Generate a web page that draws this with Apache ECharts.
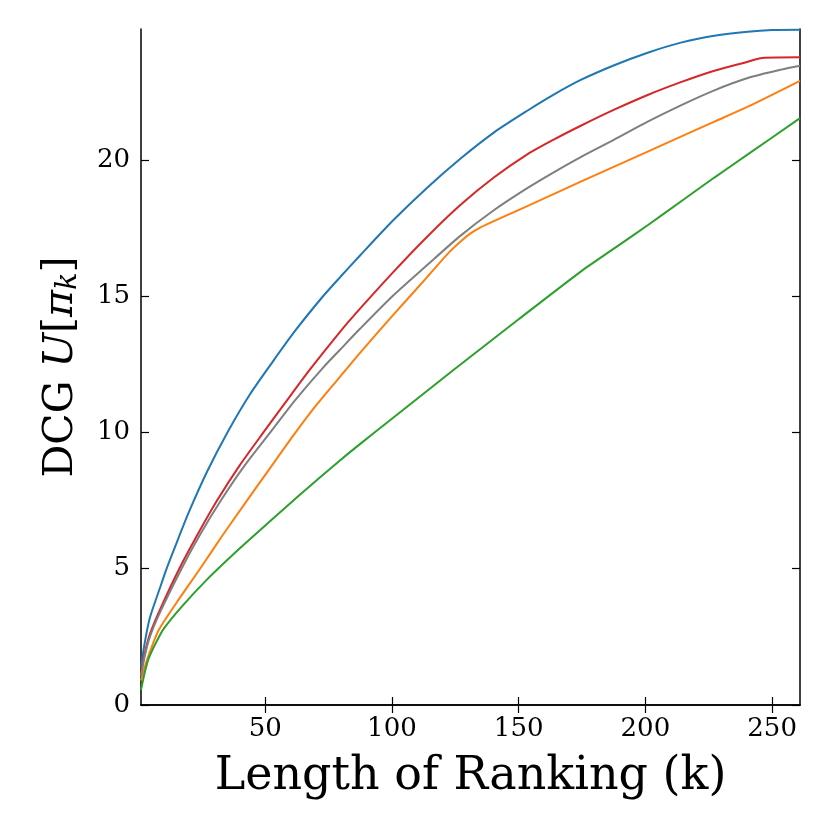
<!DOCTYPE html>
<html>
<head>
<meta charset="utf-8">
<script src="https://cdn.jsdelivr.net/npm/echarts@6/dist/echarts.min.js"></script>
<style>html,body{margin:0;padding:0;background:#fff}#c{width:830px;height:830px}</style>
</head>
<body>
<div id="c"></div>
<script>
const xTicks = [50, 100, 150, 200, 250];
const yTicks = [0, 5, 10, 15, 20];
const xTitle = 'Length of Ranking (k)';

const blue = [[1,1.4],[2.5,2.3],[4.5,3.2],[8.5,4.3],[11.1,5.0],[14,5.7],[20,7.1],[27,8.55],[35.1,10.0],[44,11.4],[53,12.6],[62,13.75],[72.4,14.95],[79.6,15.7],[87.5,16.5],[100.7,17.8],[113.9,18.98],[127.1,20.05],[140.2,21.0],[153.4,21.8],[164,22.4],[174.5,22.93],[187.7,23.47],[200.9,23.93],[214,24.3],[227.2,24.55],[240.4,24.7],[250,24.76],[261,24.77]];
const red = [[1,1.15],[2.5,1.9],[4.5,2.6],[8.5,3.5],[16.1,5.0],[23,6.2],[31,7.5],[40,8.8],[49.3,10.0],[58,11.1],[67.6,12.3],[79.6,13.7],[87.5,14.55],[100.7,15.9],[113.9,17.18],[127.1,18.35],[140.2,19.35],[153.4,20.2],[164,20.75],[174.5,21.25],[187.7,21.84],[200.9,22.38],[214,22.85],[227.2,23.27],[240.4,23.6],[246,23.74],[261,23.76]];
const gray = [[1,1.05],[2.5,1.8],[4.5,2.5],[8.5,3.4],[17,5.0],[24,6.2],[32.5,7.5],[42,8.8],[52,10.0],[62,11.2],[72.6,12.35],[79.6,13.04],[87.5,13.81],[100.7,15.04],[113.9,16.14],[127.1,17.22],[140.2,18.15],[153.4,18.96],[164,19.55],[174.5,20.1],[187.7,20.74],[200.9,21.4],[214,22.0],[227.2,22.55],[240.4,23.0],[253.6,23.31],[261,23.45]];
const orange = [[1,0.9],[2.5,1.4],[4.5,1.95],[8,2.75],[15,3.75],[24.3,5.0],[33,6.2],[42.8,7.5],[52,8.7],[61.2,9.9],[70,10.98],[79.6,12.05],[87.5,12.93],[100.7,14.33],[113.9,15.7],[122,16.55],[127.1,17.0],[131,17.3],[135,17.52],[140.2,17.75],[153.4,18.3],[174.5,19.2],[187.7,19.75],[200.9,20.3],[214,20.85],[227.2,21.4],[240.4,21.95],[261,22.9]];
const green = [[1,0.55],[2.5,1.2],[4,1.7],[7,2.3],[10,2.8],[17,3.6],[27,4.6],[40,5.75],[52,6.75],[63.8,7.72],[79.6,8.98],[87.5,9.58],[100,10.5],[124.4,12.3],[150,14.15],[174.5,15.9],[187.7,16.75],[200.9,17.6],[214,18.47],[227.2,19.35],[240.4,20.2],[261,21.53]];

const FONT = 'DejaVu Serif';
const axisLineStyle = {show: true, lineStyle: {color: '#000', width: 1.5}};
const tickStyle = {inside: true, length: 8, lineStyle: {color: '#000', width: 1.2}};

function mkSeries(data, color) {
  return {type: 'line', data: data, showSymbol: false, smooth: 0.25,
          lineStyle: {color: color, width: 2}, itemStyle: {color: color}, animation: false, z: 2};
}

const chart = echarts.init(document.getElementById('c'), null, {renderer: 'canvas'});
chart.setOption({
  backgroundColor: '#fff',
  animation: false,
  grid: {left: 141, right: 30, top: 29, bottom: 125, containLabel: false},
  xAxis: [
    {type: 'value', min: 1, max: 261, position: 'bottom',
     axisLine: axisLineStyle,
     axisTick: Object.assign({customValues: xTicks}, tickStyle),
     axisLabel: {customValues: xTicks, fontFamily: FONT, fontSize: 26, color: '#000', margin: 11},
     splitLine: {show: false},
     name: xTitle, nameLocation: 'middle', nameGap: 49,
     nameTextStyle: {fontFamily: FONT, fontSize: 46, color: '#000'}},
    {type: 'value', min: 1, max: 261, position: 'top',
     axisLine: axisLineStyle,
     axisTick: Object.assign({customValues: xTicks}, tickStyle),
     axisLabel: {show: false}, splitLine: {show: false}}
  ],
  yAxis: [
    {type: 'value', min: 0, max: 24.8, position: 'left',
     axisLine: axisLineStyle,
     axisTick: Object.assign({customValues: yTicks}, tickStyle),
     axisLabel: {customValues: yTicks, fontFamily: FONT, fontSize: 26, color: '#000', margin: 11},
     splitLine: {show: false},
     name: '{n|DCG }{i|U}{n|[}{i|π}{s|k}{n|]}', nameLocation: 'middle', nameGap: 58,
     nameTextStyle: {fontFamily: FONT, fontSize: 41, color: '#000',
       rich: {
         n: {fontFamily: FONT, fontSize: 41, color: '#000'},
         i: {fontFamily: FONT, fontSize: 41, fontStyle: 'italic', color: '#000'},
         s: {fontFamily: FONT, fontSize: 29, fontStyle: 'italic', color: '#000', verticalAlign: 'bottom', padding: [14, 0, 0, 0]}
       }}},
    {type: 'value', min: 0, max: 24.8, position: 'right',
     axisLine: axisLineStyle,
     axisTick: Object.assign({customValues: yTicks}, tickStyle),
     axisLabel: {show: false}, splitLine: {show: false}}
  ],
  series: [
    mkSeries(blue, '#1f77b4'),
    mkSeries(orange, '#ff7f0e'),
    mkSeries(green, '#2ca02c'),
    mkSeries(red, '#d62728'),
    mkSeries(gray, '#7f7f7f')
  ]
});
</script>
</body>
</html>
